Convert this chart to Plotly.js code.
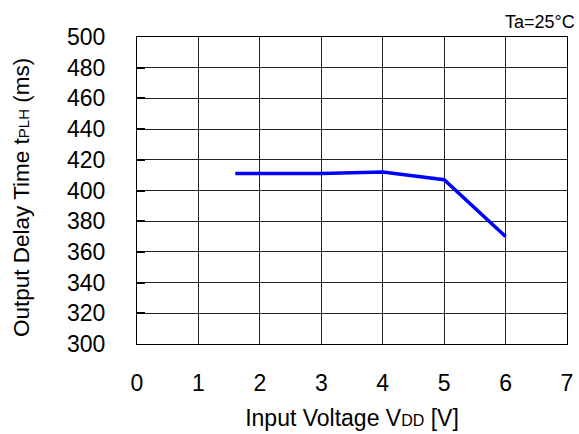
<!DOCTYPE html>
<html><head><meta charset="utf-8">
<script src="https://cdn.plot.ly/plotly-3.0.1.min.js"></script>
<style>html,body{margin:0;padding:0;background:#fff}</style>
</head><body>
<div id="chart" style="width:579px;height:434px"></div>
<script>
const voltage = [1.6, 3, 4, 5, 6];
const delayTime = [411, 411, 412, 407, 370];
const xTicks = [0, 1, 2, 3, 4, 5, 6, 7];
const yTicks = [300, 320, 340, 360, 380, 400, 420, 440, 460, 480, 500];

const fontFam = 'Liberation Sans, Arial, sans-serif';
const trace = {
  x: voltage, y: delayTime, type: 'scatter', mode: 'lines',
  line: {color: '#0000FF', width: 3.5}, hoverinfo: 'none'
};
const layout = {
  width: 579, height: 434,
  margin: {l: 137, r: 12, t: 37, b: 90},
  paper_bgcolor: '#fff', plot_bgcolor: '#fff',
  showlegend: false,
  font: {family: fontFam, size: 23, color: '#000'},
  xaxis: {
    range: [0, 7], tickvals: xTicks, ticktext: xTicks.map(String),
    showgrid: true, gridcolor: '#222', gridwidth: 1,
    showline: true, linecolor: '#000', linewidth: 1, mirror: true,
    ticks: '', zeroline: false, ticklabelstandoff: 18,
    title: {text: 'Input Voltage V<span style="font-size:16px">DD</span> [V]', standoff: 15, font: {size: 23}}
  },
  yaxis: {
    range: [300, 500], tickvals: yTicks, ticktext: yTicks.map(String),
    showgrid: true, gridcolor: '#222', gridwidth: 1,
    showline: true, linecolor: '#000', linewidth: 1, mirror: true,
    ticks: 'inside', ticklen: 8, tickwidth: 2, tickcolor: '#000',
    zeroline: false, ticklabelstandoff: 26
  },
  annotations: [{
    xref: 'paper', yref: 'paper', x: 1.023, y: 1.0, xanchor: 'right', yanchor: 'bottom',
    yshift: 3, text: 'Ta=25°C', showarrow: false, font: {size: 18, family: fontFam}
  }, {
    xref: 'paper', yref: 'paper', x: -0.2674, y: 0.4756, xanchor: 'center', yanchor: 'middle',
    textangle: -90, text: 'Output Delay Time t<span style="font-size:15px">PLH</span> (ms)',
    showarrow: false, font: {size: 22.5, family: fontFam}
  }]
};
Plotly.newPlot('chart', [trace], layout, {displayModeBar: false, staticPlot: true});
</script>
</body></html>
